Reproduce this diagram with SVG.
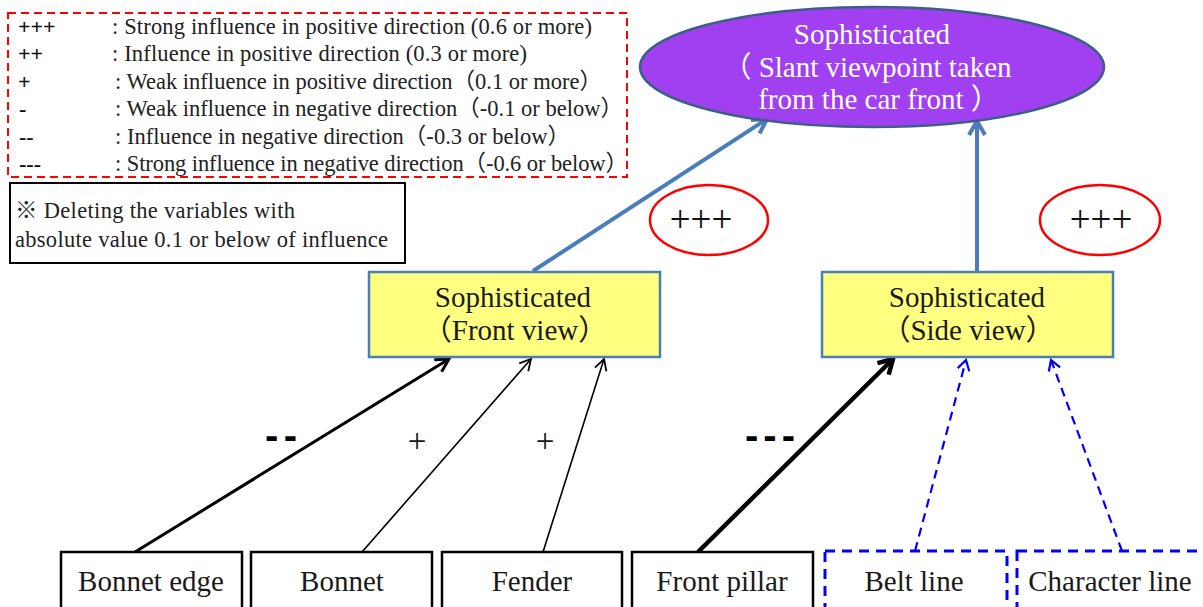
<svg xmlns="http://www.w3.org/2000/svg" width="1203" height="607" viewBox="0 0 1203 607">
<style>
  .leg { font-family: "Liberation Serif", "Noto Sans CJK JP", serif; font-size: 22.5px; fill: #222; }
  .sym { font-family: "Liberation Serif", serif; font-size: 22px; fill: #111; font-weight: bold; }
  .big { font-family: "Liberation Serif", "Noto Sans CJK JP", serif; font-size: 29px; fill: #1a1a1a; text-anchor: middle; }
  .white { fill: #ffffff; }
  .box { fill: #ffffff; stroke: #000; stroke-width: 2.5; }
  .dbox { fill: #ffffff; stroke: #0000ff; stroke-width: 3; stroke-dasharray: 10 7; }
  .ybox { fill: #ffff80; stroke: #4a7ebb; stroke-width: 2.5; }
  .sign { font-family: "Liberation Sans", sans-serif; font-weight: bold; font-size: 40px; fill: #000; }
  .plus { font-family: "Liberation Serif", serif; font-size: 33px; fill: #111; text-anchor: middle; }
  .ppp { font-family: "Liberation Serif", serif; font-size: 37px; fill: #111; text-anchor: middle; }
</style>
<defs>
  <marker id="hBlue" markerUnits="userSpaceOnUse" orient="auto" refX="0" refY="0" markerWidth="40" markerHeight="40" overflow="visible">
    <path d="M-14,-8 L0,0 L-14,8" fill="none" stroke="#4a7ebb" stroke-width="4"/>
  </marker>
  <marker id="hThin" markerUnits="userSpaceOnUse" orient="auto" refX="0" refY="0" markerWidth="40" markerHeight="40" overflow="visible">
    <path d="M-11,-6 L0,0 L-11,6" fill="none" stroke="#000" stroke-width="1.8"/>
  </marker>
  <marker id="hMed" markerUnits="userSpaceOnUse" orient="auto" refX="0" refY="0" markerWidth="40" markerHeight="40" overflow="visible">
    <path d="M-13,-7 L0,0 L-13,7" fill="none" stroke="#000" stroke-width="3"/>
  </marker>
  <marker id="hThick" markerUnits="userSpaceOnUse" orient="auto" refX="0" refY="0" markerWidth="40" markerHeight="40" overflow="visible">
    <path d="M-14,-8 L0,0 L-14,8" fill="none" stroke="#000" stroke-width="4.5"/>
  </marker>
  <marker id="hDash" markerUnits="userSpaceOnUse" orient="auto" refX="0" refY="0" markerWidth="40" markerHeight="40" overflow="visible">
    <path d="M-10,-6 L0,0 L-10,6" fill="none" stroke="#0000ff" stroke-width="2.2"/>
  </marker>
</defs>
<rect width="1203" height="607" fill="#ffffff"/>

<g id="legend">
  <rect x="8" y="13" width="619" height="164" fill="none" stroke="#ff0000" stroke-width="2" stroke-dasharray="8 5"/>
  <text class="sym" x="18" y="34">+++</text>
  <text class="leg" x="112" y="34" textLength="480">: Strong influence in positive direction (0.6 or more)</text>
  <text class="sym" x="18" y="61">++</text>
  <text class="leg" x="112" y="61" textLength="415">: Influence in positive direction (0.3 or more)</text>
  <text class="sym" x="18" y="89">+</text>
  <text class="leg" x="115" y="89" textLength="487">: Weak influence in positive direction（0.1 or more）</text>
  <text class="sym" x="19" y="116">-</text>
  <text class="leg" x="115" y="116" textLength="508">: Weak influence in negative direction（-0.1 or below）</text>
  <text class="sym" x="19" y="144">--</text>
  <text class="leg" x="115" y="144" textLength="455">: Influence in negative direction（-0.3 or below）</text>
  <text class="sym" x="19" y="171">---</text>
  <text class="leg" x="115" y="171" textLength="513">: Strong influence in negative direction（-0.6 or below）</text>
</g>

<g id="note">
  <rect x="10" y="183" width="395" height="80" fill="#ffffff" stroke="#000" stroke-width="2"/>
  <text class="leg" x="15" y="218" font-size="23" textLength="280">※ Deleting the variables with</text>
  <text class="leg" x="15" y="247" font-size="23" textLength="373">absolute value 0.1 or below of influence</text>
</g>

<g id="connectors">
  <path d="M533,271 L767,119" stroke="#4a7ebb" stroke-width="4" fill="none" marker-end="url(#hBlue)"/>
  <path d="M977,271 L977,121" stroke="#4a7ebb" stroke-width="4" fill="none" marker-end="url(#hBlue)"/>
  <path d="M135,552 L449,359" stroke="#000" stroke-width="3" fill="none" marker-end="url(#hMed)"/>
  <path d="M362,552 L531,359" stroke="#000" stroke-width="1.6" fill="none" marker-end="url(#hThin)"/>
  <path d="M543,552 L604,359" stroke="#000" stroke-width="1.6" fill="none" marker-end="url(#hThin)"/>
  <path d="M698,552 L893,359" stroke="#000" stroke-width="4.5" fill="none" marker-end="url(#hThick)"/>
  <path d="M915,551 L966,360" stroke="#0000ff" stroke-width="2.2" stroke-dasharray="9 6" fill="none" marker-end="url(#hDash)"/>
  <path d="M1122,551 L1051,360" stroke="#0000ff" stroke-width="2.2" stroke-dasharray="9 6" fill="none" marker-end="url(#hDash)"/>
  <text class="sign" x="265" y="449" textLength="32">--</text>
  <text class="sign" x="745" y="449" textLength="50">---</text>
  <text class="plus" x="417" y="452">+</text>
  <text class="plus" x="545" y="452">+</text>
</g>

<g id="top">
  <ellipse cx="872" cy="67" rx="232" ry="60" fill="#a040f0" stroke="#3b5f88" stroke-width="2.5"/>
  <text class="big white" x="872" y="44">Sophisticated</text>
  <text class="big white" x="867" y="77">（ Slant viewpoint taken</text>
  <text class="big white" x="879" y="109">from the car front ）</text>
</g>

<g id="weight-left">
  <ellipse cx="709" cy="220" rx="59" ry="35" fill="none" stroke="#ff0000" stroke-width="2.5"/>
  <text class="ppp" x="701" y="232">+++</text>
</g>
<g id="weight-right">
  <ellipse cx="1100" cy="220" rx="60" ry="35" fill="none" stroke="#ff0000" stroke-width="2.5"/>
  <text class="ppp" x="1101" y="232">+++</text>
</g>

<g id="front-view">
  <rect class="ybox" x="369" y="272" width="291" height="85"/>
  <text class="big" x="513" y="307">Sophisticated</text>
  <text class="big" x="515" y="340">（Front view）</text>
</g>
<g id="side-view">
  <rect class="ybox" x="822" y="272" width="291" height="85"/>
  <text class="big" x="967" y="307">Sophisticated</text>
  <text class="big" x="968" y="340">（Side view）</text>
</g>

<g id="bonnet-edge">
  <rect class="box" x="61" y="552" width="181" height="70"/>
  <text class="big" x="151" y="591">Bonnet edge</text>
</g>
<g id="bonnet">
  <rect class="box" x="251" y="552" width="181" height="70"/>
  <text class="big" x="342" y="591">Bonnet</text>
</g>
<g id="fender">
  <rect class="box" x="442" y="552" width="180" height="70"/>
  <text class="big" x="532" y="591">Fender</text>
</g>
<g id="front-pillar">
  <rect class="box" x="632" y="552" width="181" height="70"/>
  <text class="big" x="722" y="591">Front pillar</text>
</g>
<g id="belt-line">
  <rect class="dbox" x="825" y="551" width="182" height="70"/>
  <text class="big" x="914" y="591">Belt line</text>
</g>
<g id="character-line">
  <rect class="dbox" x="1017" y="551" width="190" height="70"/>
  <text class="big" x="1110" y="591">Character line</text>
</g>
</svg>
